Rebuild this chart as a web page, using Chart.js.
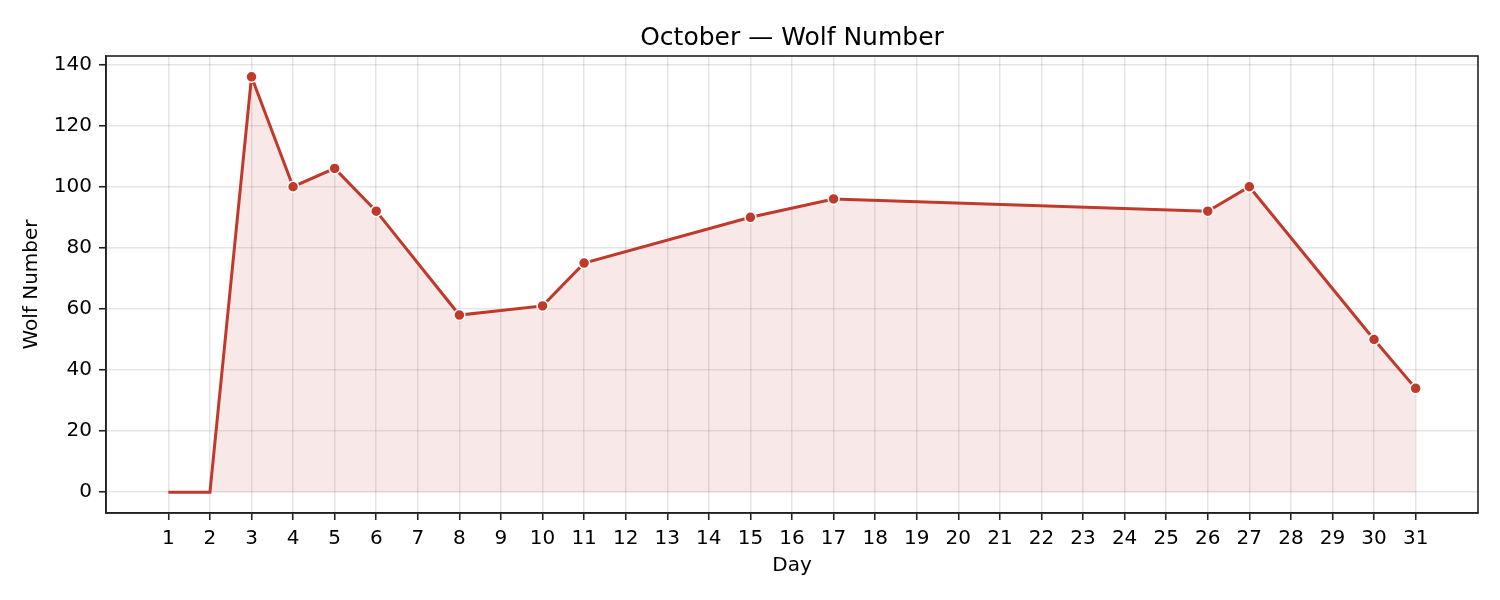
<!DOCTYPE html>
<html>
<head>
<meta charset="utf-8">
<script src="https://cdn.jsdelivr.net/npm/chart.js@4"></script>
<style>
html,body{margin:0;padding:0;background:#fff;}
#wrap{width:1500px;height:600px;}
</style>
</head>
<body>
<div id="wrap"><canvas id="c" width="1500" height="600"></canvas></div>
<script>
const days = [1, 2, 3, 4, 5, 6, 8, 10, 11, 15, 17, 26, 27, 30, 31];
const wolfNumbers = [0, 0, 136, 100, 106, 92, 58, 61, 75, 90, 96, 92, 100, 50, 34];
const xTickLabels = Array.from({length: 31}, (_, i) => i + 1);
const yTickLabels = [0, 20, 40, 60, 80, 100, 120, 140];
const titleText = 'October \u2014 Wolf Number';
const xLabel = 'Day';
const yLabel = 'Wolf Number';

const RED = '#c0392b';
const FONT = 'DejaVu Sans';

const boxPlugin = {
  id: 'box',
  afterDraw(chart) {
    const {ctx, chartArea: a} = chart;
    ctx.save();
    ctx.strokeStyle = '#222';
    ctx.lineWidth = 1.6;
    ctx.strokeRect(a.left, a.top, a.right - a.left, a.bottom - a.top);
    ctx.restore();
  }
};

new Chart(document.getElementById('c'), {
  type: 'line',
  data: {
    datasets: [{
      data: days.map((d, i) => ({x: d, y: wolfNumbers[i]})),
      borderColor: RED,
      borderWidth: 3,
      backgroundColor: 'rgba(192,57,43,0.11)',
      fill: 'origin',
      tension: 0,
      pointRadius: wolfNumbers.map(v => v > 0 ? 5.5 : 0),
      pointBackgroundColor: RED,
      pointBorderColor: '#fff',
      pointBorderWidth: 1.5,
      pointHoverRadius: 5.5
    }]
  },
  options: {
    responsive: false,
    animation: false,
    devicePixelRatio: 1,
    layout: {padding: {left: 0, right: 22, top: 0, bottom: 0}},
    plugins: {
      legend: {display: false},
      tooltip: {enabled: false},
      title: {
        display: true,
        fullSize: false,
        text: titleText,
        color: '#000',
        font: {family: FONT, size: 25, weight: 'normal'},
        padding: {top: 23, bottom: 3}
      }
    },
    scales: {
      x: {
        type: 'linear',
        min: -0.5,
        max: 32.5,
        afterBuildTicks: s => { s.ticks = xTickLabels.map(v => ({value: v})); },
        afterFit: s => { s.height = 87; },
        ticks: {
          color: '#000',
          font: {family: FONT, size: 20},
          padding: 7,
          maxRotation: 0,
          autoSkip: false
        },
        grid: {
          color: 'rgba(0,0,0,0.1)',
          lineWidth: 1.5,
          tickColor: '#222',
          tickLength: 7,
          tickWidth: 1.6
        },
        border: {display: true, color: '#222', width: 1.6},
        title: {
          display: true,
          text: xLabel,
          color: '#000',
          font: {family: FONT, size: 20},
          padding: {top: 0, bottom: 22}
        }
      },
      y: {
        min: -6.8,
        max: 142.8,
        afterBuildTicks: s => { s.ticks = yTickLabels.map(v => ({value: v})); },
        afterFit: s => { s.width = 106; },
        ticks: {
          color: '#000',
          font: {family: FONT, size: 20},
          padding: 7
        },
        grid: {
          color: 'rgba(0,0,0,0.1)',
          lineWidth: 1.5,
          tickColor: '#222',
          tickLength: 7,
          tickWidth: 1.6
        },
        border: {display: true, color: '#222', width: 1.6},
        title: {
          display: true,
          text: yLabel,
          color: '#000',
          font: {family: FONT, size: 20},
          padding: {top: 20, bottom: 0}
        }
      }
    }
  },
  plugins: [boxPlugin]
});
</script>
</body>
</html>
